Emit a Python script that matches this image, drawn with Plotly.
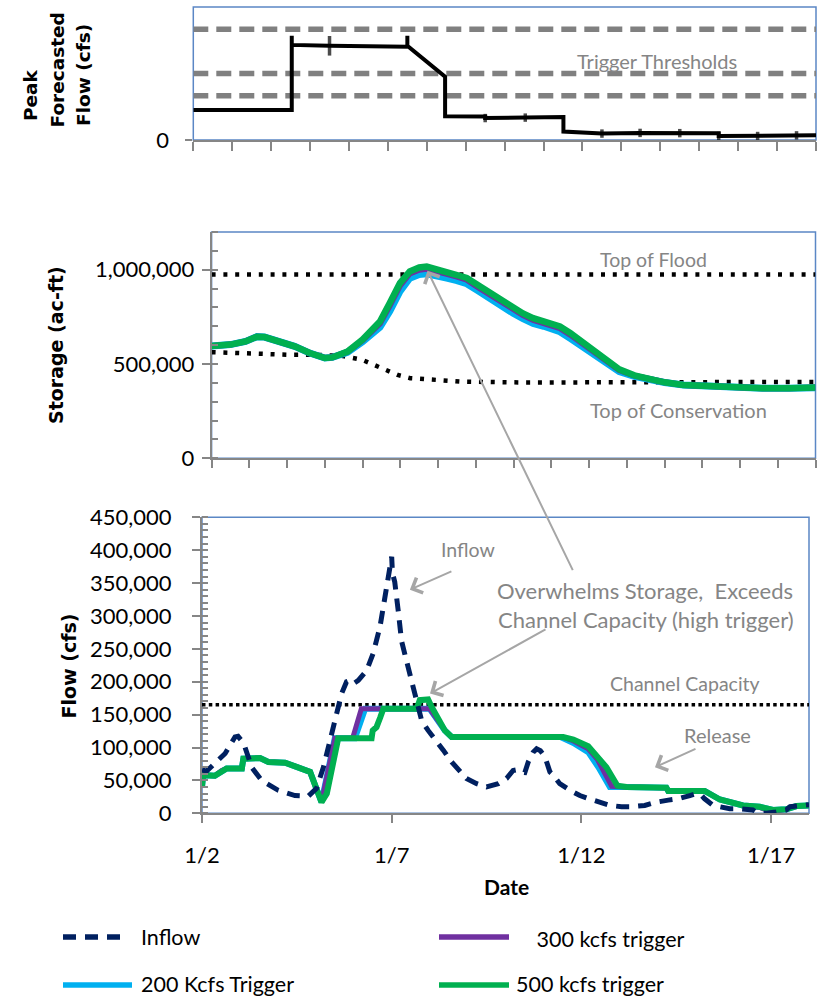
import pandas as pd
import plotly.graph_objects as go

# ---------------------------------------------------------------------------
# Time base: every series is stored as fractional days after 1/2
# ---------------------------------------------------------------------------
START = pd.Timestamp("1997-01-02")
SPAN_DAYS = 16
DAY_MS = 86400000

# Peak forecasted flow (kcfs) at each forecast issue
forecast_day = [0, 2.53, 2.53, 2.53, 3.5, 5.5, 5.5, 5.5, 6.47, 6.47, 7.5, 7.5,
                8.53, 9.51, 9.51, 10.5, 11.48, 12.5, 13.5, 13.5, 14.5, 15.5, 16.0]
forecast_kcfs = [135, 135, 470, 429, 425, 421, 470, 425, 286, 107, 106, 99,
                 101, 104, 38, 29, 32, 31, 30, 18, 18, 21, 21]
forecast_mark_day = [3.5, 7.5, 8.53, 10.5, 11.48, 12.5, 13.5, 14.5, 15.5]
forecast_mark_kcfs = [425, 99, 101, 29, 32, 31, 18, 18, 21]
forecast_mark_size = [14, 6, 6, 6, 6, 6, 6, 6, 6]
trigger_thresholds_kcfs = [200, 300, 500]

# Reservoir storage (thousand ac-ft)
storage_day = [0, 0.5, 0.9, 1.2, 1.4, 1.8, 2.2, 2.6, 3.0, 3.2, 3.6, 4.0, 4.2, 4.46,
               4.72, 4.99, 5.25, 5.5, 5.7, 5.95, 6.23, 6.5, 6.76, 7.05, 7.37, 7.7,
               7.99, 8.25, 8.52, 8.8, 8.96, 9.23, 9.5, 9.76, 10.1, 10.4, 10.8, 11.2,
               11.6, 12.0, 12.5, 13.2, 13.9, 14.6, 15.3, 16.0]
storage_200_kaf = [596, 603, 620, 645, 643, 622, 594, 558, 532, 535, 562, 618, 650,
                   695, 780, 885, 955, 975, 978, 970, 955, 942, 926, 890, 847, 806,
                   769, 740, 715, 700, 690, 671, 636, 599, 550, 510, 460, 434, 415,
                   402, 389, 380, 373, 371, 371, 374]
storage_300_kaf = [596, 603, 620, 645, 643, 622, 594, 558, 532, 535, 564, 626, 664,
                   715, 810, 915, 980, 1000, 1005, 995, 978, 963, 947, 909, 867, 826,
                   788, 759, 734, 718, 708, 690, 656, 619, 567, 524, 468, 438, 417,
                   403, 389, 381, 374, 372, 372, 375]
storage_500_kaf = [596, 603, 620, 645, 643, 622, 594, 558, 532, 535, 566, 630, 670,
                   725, 823, 929, 991, 1012, 1017, 1005, 988, 972, 956, 918, 876, 835,
                   797, 768, 743, 727, 717, 699, 665, 628, 575, 530, 472, 440, 418,
                   403, 389, 381, 374, 372, 372, 375]
top_of_flood_kaf = 975
conservation_day = [0, 0.67, 1.37, 2.06, 2.74, 3.46, 3.99, 4.34, 4.66, 4.93, 5.26,
                    5.83, 6.6, 8.3, 12.0, 16.0]
conservation_kaf = [563, 558, 550, 549, 549, 543, 522, 492, 469, 442, 425, 416,
                    407, 402, 403, 405]

# Flows (kcfs)
inflow_day = [0, 0.12, 0.34, 0.61, 0.87, 0.95, 1.05, 1.13, 1.31, 1.57,
              2.01, 2.45, 2.8, 3.02, 3.2, 3.37, 3.55, 3.68, 3.81, 3.9,
              3.99, 4.12, 4.34, 4.51, 4.69, 4.87, 4.97, 5.0, 5.02, 5.08,
              5.17, 5.26, 5.39, 5.48, 5.61, 5.72, 5.79, 5.96, 6.14, 6.36,
              6.58, 6.8, 6.97, 7.24, 7.5, 7.81, 8.03, 8.2, 8.29, 8.38,
              8.51, 8.6, 8.73, 8.82, 8.92, 9.04, 9.17, 9.26, 9.43, 9.7,
              9.96, 10.2, 10.49, 10.75, 11.06, 11.32, 11.67, 11.98, 12.29, 12.55,
              12.86, 13.04, 13.17, 13.25, 13.47, 13.69, 13.91, 14.17, 14.52, 14.6,
              14.87, 15.13, 15.4, 15.5, 15.84, 16.0]
inflow_kcfs = [66, 64, 76, 91, 116, 117, 110, 101, 70, 50,
               35, 27, 26, 38, 70, 111, 157, 182, 200, 202,
               197, 202, 217, 243, 283, 344, 385, 390, 365, 352,
               309, 262, 232, 212, 182, 160, 141, 126, 111, 96,
               78, 63, 53, 45, 40, 45, 53, 65, 66, 63,
               62, 78, 93, 98, 95, 86, 63, 58, 45, 35,
               27, 22, 17, 12, 10, 10, 12, 17, 20, 22,
               27, 30, 27, 22, 12, 10, 7, 7, 5, 2,
               0, 2, 5, 10, 12, 13]

release_200_day = [0, 0.03, 0.34, 0.52, 0.65, 1.05, 1.09, 1.53, 1.75, 2.19, 2.54,
                   2.85, 3.15, 3.5, 4.03, 4.3, 6.0, 6.4, 6.58, 9.45, 9.79, 10.18,
                   10.45, 10.75, 11.19, 12.24, 12.29, 13.25, 13.65, 14.26, 14.7,
                   15.05, 15.4, 15.67, 16.0]
release_200_kcfs = [40, 58, 57, 65, 68, 68, 83, 84, 78, 77, 70, 63, 17, 114, 114,
                    159, 159, 126, 116, 116, 107, 93, 70, 40, 40, 39, 34, 34, 21,
                    12, 10, 5, 6, 11, 12]
release_300_day = [0, 0.03, 0.34, 0.52, 0.65, 1.05, 1.09, 1.53, 1.75, 2.19, 2.54,
                   2.85, 3.15, 3.5, 3.97, 4.2, 6.0, 6.4, 6.58, 9.5, 9.79, 10.18,
                   10.42, 10.8, 11.19, 12.24, 12.29, 13.25, 13.65, 14.26, 14.7,
                   15.0, 15.4, 15.67, 16.0]
release_300_kcfs = [40, 58, 57, 65, 68, 68, 83, 84, 78, 77, 70, 63, 17, 114, 114,
                    159, 159, 126, 116, 116, 110, 98, 82, 41, 40, 39, 34, 34, 21,
                    12, 9, 2, 6, 11, 12]
release_500_day = [0, 0.03, 0.34, 0.52, 0.65, 1.05, 1.09, 1.53, 1.75, 2.19, 2.54,
                   2.85, 3.15, 3.29, 3.59, 4.47, 4.5, 4.6, 4.7, 4.78, 5.66, 5.74,
                   5.96, 6.05, 6.4, 6.58, 9.52, 9.79, 10.18, 10.4, 10.66, 10.95,
                   11.19, 12.24, 12.29, 13.25, 13.65, 14.26, 14.7, 15.05, 15.4,
                   15.67, 16.0]
release_500_kcfs = [40, 58, 57, 65, 68, 68, 83, 84, 78, 77, 70, 63, 17, 30, 114,
                    114, 126, 131, 146, 159, 159, 172, 173, 162, 126, 116, 116, 112,
                    102, 88, 70, 42, 40, 39, 34, 34, 21, 12, 10, 5, 6, 11, 12]
channel_capacity_kcfs = 165

# ---------------------------------------------------------------------------
# Styling
# ---------------------------------------------------------------------------
W, H = 820, 999
FONT = "Lato"
TITLE_FONT = "DejaVu Sans"
AXIS_GRAY = "#868686"
BORDER_BLUE = "#5B87C5"
NOTE_GRAY = "#858585"
ARROW_GRAY = "#A6A6A6"
C_INFLOW = "#002060"
C_200 = "#00B0F0"
C_300 = "#7030A0"
C_500 = "#00B050"
INFLOW_DASH = "13px,9px"
TICK_SIZE = 22


def px(x):
    return x / W


def py(y):
    return 1 - y / H


def dates(days):
    return [START + pd.Timedelta(days=d) for d in days]


def thousands(vals):
    return [v * 1000 for v in vals]


END = START + pd.Timedelta(days=SPAN_DAYS)
FULL = [START, END]

fig = go.Figure()


def line(days, vals, xa, ya, color, width, dash=None, x=None):
    fig.add_trace(go.Scatter(
        x=x if x is not None else dates(days), y=vals, mode="lines",
        line=dict(color=color, width=width, dash=dash),
        xaxis=xa, yaxis=ya, showlegend=False, hoverinfo="skip"))


# Top panel: trigger thresholds and peak forecast
for t in trigger_thresholds_kcfs:
    line(None, [t * 1000] * 2, "x", "y", "#808080", 5.5, "15px,8px", x=FULL)
line(forecast_day, thousands(forecast_kcfs), "x", "y", "black", 4)
fig.add_trace(go.Scatter(
    x=dates(forecast_mark_day), y=thousands(forecast_mark_kcfs), mode="markers",
    marker=dict(symbol="line-ns", size=forecast_mark_size,
                line=dict(color="black", width=3.5)),
    xaxis="x", yaxis="y", showlegend=False, hoverinfo="skip"))

# Middle panel: storage
line(None, [top_of_flood_kaf * 1000] * 2, "x2", "y2", "black", 4.5, "4px,7.8px", x=FULL)
line(conservation_day, thousands(conservation_kaf), "x2", "y2", "black", 4.5, "4px,7.8px")
line(storage_day, thousands(storage_200_kaf), "x2", "y2", C_200, 7)
line(storage_day, thousands(storage_300_kaf), "x2", "y2", C_300, 6)
line(storage_day, thousands(storage_500_kaf), "x2", "y2", C_500, 6.5)

# Bottom panel: flows
line(None, [channel_capacity_kcfs * 1000] * 2, "x3", "y3", "black", 3.5, "3.5px,3.3px", x=FULL)
line(release_200_day, thousands(release_200_kcfs), "x3", "y3", C_200, 6)
line(release_300_day, thousands(release_300_kcfs), "x3", "y3", C_300, 5)
line(release_500_day, thousands(release_500_kcfs), "x3", "y3", C_500, 6)
line(inflow_day, thousands(inflow_kcfs), "x3", "y3", C_INFLOW, 5, INFLOW_DASH)

# ---------------------------------------------------------------------------
# Axes
# ---------------------------------------------------------------------------
tick_common = dict(showgrid=False, zeroline=False, showline=True,
                   linecolor=AXIS_GRAY, linewidth=2, tickcolor=AXIS_GRAY,
                   tickwidth=1.5, fixedrange=True, automargin=False)

day_axis = dict(type="date", range=FULL, tick0=START, **tick_common)

fig.update_layout(
    xaxis=dict(domain=[px(193.3), px(816)], anchor="y", dtick=DAY_MS,
               ticks="outside", ticklen=9, showticklabels=False, **day_axis),
    yaxis=dict(domain=[py(140), py(7)], anchor="x", range=[0, 600000],
               tickvals=[0], ticktext=["0"], ticks="outside", ticklen=7,
               ticklabelstandoff=12, tickfont=dict(size=TICK_SIZE, color="black"),
               **{**tick_common, "showline": False}),
    xaxis2=dict(domain=[px(211.6), px(815.5)], anchor="y2", dtick=DAY_MS,
                ticks="outside", ticklen=8, showticklabels=False, **day_axis),
    yaxis2=dict(domain=[py(458.3), py(232)], anchor="x2", range=[0, 1200000],
                tickvals=[0, 500000, 1000000], tickformat=",", ticks="outside",
                ticklen=8, ticklabelstandoff=3,
                tickfont=dict(size=TICK_SIZE, color="black"),
                minor=dict(dtick=100000, ticks="inside", ticklen=6,
                           tickcolor=AXIS_GRAY, tickwidth=1.5),
                **tick_common),
    xaxis3=dict(domain=[px(202), px(809)], anchor="y3", dtick=5 * DAY_MS,
                ticks="outside", ticklen=8, tickformat="%-m/%-d",
                ticklabelstandoff=13, tickfont=dict(size=TICK_SIZE, color="black"),
                **day_axis),
    yaxis3=dict(domain=[py(813.3), py(517.3)], anchor="x3", range=[0, 450000],
                dtick=50000, tickformat=",", ticks="outside", ticklen=8,
                ticklabelstandoff=16, tickfont=dict(size=TICK_SIZE, color="black"),
                minor=dict(dtick=10000, ticks="inside", ticklen=6,
                           tickcolor=AXIS_GRAY, tickwidth=1.5),
                **tick_common),
)

# Plot-area borders
for xa, ya in (("x", "y"), ("x2", "y2"), ("x3", "y3")):
    fig.add_shape(type="rect", xref=f"{xa} domain", yref=f"{ya} domain",
                  x0=0, x1=1, y0=0, y1=1, line=dict(color=BORDER_BLUE, width=1.5),
                  layer="below")

# ---------------------------------------------------------------------------
# Text: axis titles, notes, arrows
# ---------------------------------------------------------------------------
ann = []


def text(x, y, s, size=19, color=NOTE_GRAY, family=FONT, bold=False, angle=0,
         xanchor="center"):
    ann.append(dict(x=px(x), y=py(y), xref="paper", yref="paper", text=s,
                    showarrow=False, textangle=angle, xanchor=xanchor,
                    yanchor="middle", borderpad=0,
                    font=dict(family=family, size=size, color=color,
                              weight="bold" if bold else "normal")))


# y-axis titles
text(31, 95, "Peak", 18.5, "black", TITLE_FONT, True, -90)
text(57.5, 70, "Forecasted", 18.5, "black", TITLE_FONT, True, -90)
text(84, 75, "Flow (cfs)", 18.5, "black", TITLE_FONT, True, -90)
text(56.5, 345.5, "Storage (ac-ft)", 19, "black", TITLE_FONT, True, -90)
text(68, 666.5, "Flow (cfs)", 19, "black", TITLE_FONT, True, -90)
text(506, 886, "Date", 21, "black", FONT, True)

# panel notes
text(657, 61, "Trigger Thresholds", 20)
text(653, 259, "Top of Flood", 19.5)
text(678, 410, "Top of Conservation", 20)
text(468, 549, "Inflow", 19.5)
text(645, 590.7, "Overwhelms Storage,  Exceeds", 22)
text(646, 619.3, "Channel Capacity (high trigger)", 22)
text(685, 683.3, "Channel Capacity", 19.5)
text(717, 735, "Release", 20)


def arrow(xa, ya, day, value, ax, ay):
    ann.append(dict(x=START + pd.Timedelta(days=day), y=value, xref=xa, yref=ya,
                    ax=ax, ay=ay, showarrow=True, arrowhead=4, arrowsize=1.6,
                    arrowwidth=2, arrowcolor=ARROW_GRAY, text=""))


arrow("x3", "y3", 5.48, 340000, 43, -19)
arrow("x2", "y2", 5.72, 995000, 146, 301)
arrow("x3", "y3", 6.01, 182000, 117, -65)
arrow("x3", "y3", 11.94, 70000, 42, -19)

# Legend, two columns
legend_rows = [
    (63, 124, 937, C_INFLOW, INFLOW_DASH, 140, 937, "Inflow"),
    (439, 509, 937, C_300, None, 530, 939, " 300 kcfs trigger"),
    (63, 132, 985, C_200, None, 140, 984, "200 Kcfs Trigger"),
    (439, 509, 985, C_500, None, 515, 984, "500 kcfs trigger"),
]
for x0, x1, ly, color, dash, tx, ty, label in legend_rows:
    fig.add_shape(type="line", xref="paper", yref="paper", x0=px(x0), x1=px(x1),
                  y0=py(ly), y1=py(ly), line=dict(color=color, width=5.5, dash=dash))
    text(tx, ty, label, 21.5, "black", FONT, False, 0, "left")

fig.update_layout(
    annotations=ann,
    width=W, height=H,
    margin=dict(l=0, r=0, t=0, b=0, autoexpand=False),
    paper_bgcolor="white", plot_bgcolor="white",
    font=dict(family=FONT, color="black"),
    showlegend=False,
)

fig.write_html("out.html")
